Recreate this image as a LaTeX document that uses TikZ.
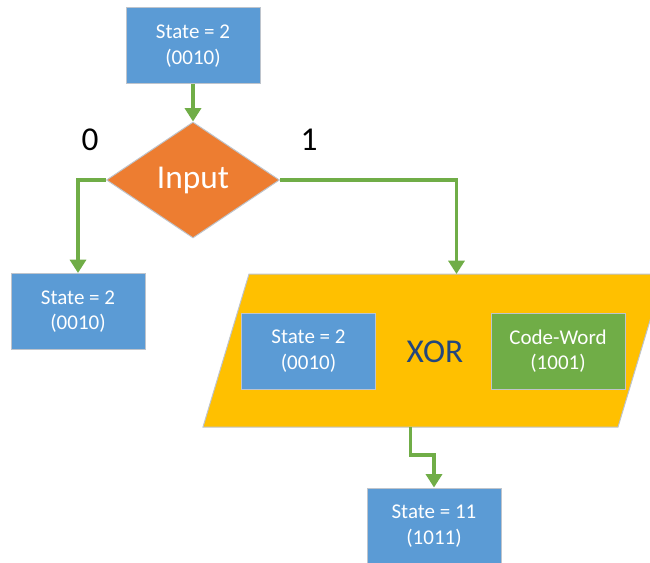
\documentclass[tikz,border=0pt]{standalone}
\usepackage{fontspec}
\setmainfont{Carlito}
\usetikzlibrary{shapes.geometric,arrows.meta}

\definecolor{boxblue}{RGB}{91,155,213}
\definecolor{boxorange}{RGB}{237,125,49}
\definecolor{boxgold}{RGB}{255,192,0}
\definecolor{boxgreen}{RGB}{112,173,71}
\definecolor{xorblue}{RGB}{35,70,125}
\definecolor{rimgray}{RGB}{190,196,204}

\tikzset{every picture/.style={line width=0.75pt}}
\tikzset{
  statebox/.style={draw=rimgray, line width=0.75pt, fill=boxblue, text=white, align=center,
    minimum width=100.5pt, minimum height=57pt, inner sep=0pt,
    font=\fontsize{15.75}{19}\selectfont},
  wire/.style={draw=boxgreen, line width=2.4pt, -{Triangle[width=12pt,length=10pt]}},
  biglabel/.style={inner sep=0pt, font=\fontsize{25}{30}\selectfont}
}

\begin{document}
\begin{tikzpicture}[x=0.75pt,y=0.75pt,yscale=-1,xscale=1]
            \useasboundingbox (0,0) rectangle (650,563);

            %Shape: Rectangle [top state]
            \node [statebox] (top) at (193,46) {State = 2\\(0010)};
            %Shape: Diamond [input]
            \node [diamond, draw=rimgray, fill=boxorange, text=white, minimum width=129.75pt, minimum height=87pt, inner sep=0pt, biglabel] (input) at (193,180) {Input};
            %Shape: Rectangle [left state]
            \node [statebox] (left) at (78,311.5) {State = 2\\(0010)};

            %Shape: Parallelogram [xor block]
            \draw [draw=rimgray, fill=boxgold] (249,274) -- (664,274) -- (618,427) -- (203,427) -- cycle ;
            \coordinate (xortop) at (456.5,274);
            \coordinate (xorbot) at (410.5,427);
            \node [statebox] (xstate) at (308.5,351) {State = 2\\(0010)};
            \node [statebox, fill=boxgreen] (code) at (558,351) {Code-Word\\(1001)};
            \node [biglabel, text=xorblue] (xor) at (435,352) {XOR};

            %Shape: Rectangle [new state]
            \node [statebox] (out) at (434,526) {State = 11\\(1011)};

            % Text Node
            \node [biglabel] (zero) at (90,140) {0};
            % Text Node
            \node [biglabel] (one) at (309,140) {1};

            %Connectors
            \draw [wire] (top.south) -- (input.north);
            \draw [wire] (input.west) -| (left.north);
            \draw [wire] (input.east) -| (xortop);
            \draw [wire] (xorbot) -- ++(0,28) -| (out.north);

\end{tikzpicture}
\end{document}
